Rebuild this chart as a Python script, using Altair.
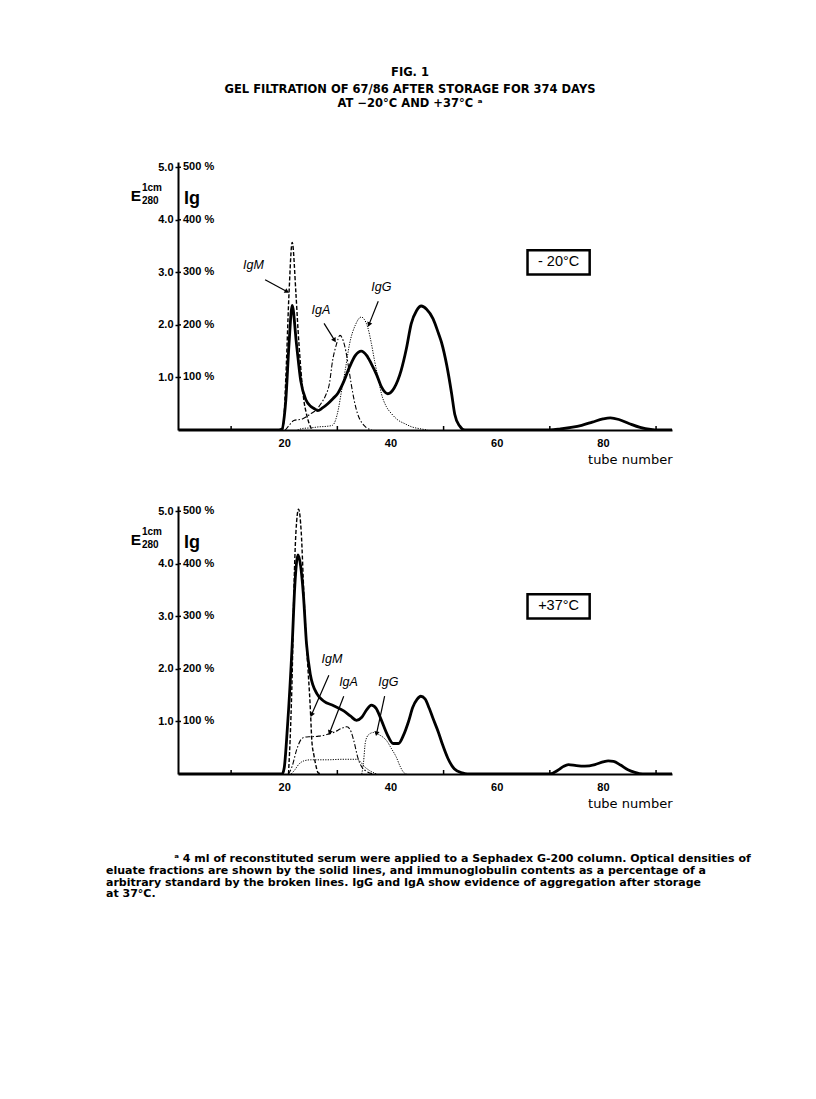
import math
import altair as alt
import pandas as pd

# ---------------- data ----------------
# Top panel: -20 °C
top_e280_tube = [0, 19, 19.6, 20, 20.3, 20.9, 21.5, 22.3, 23.1, 24.1, 25, 25.6, 26.3, 27.2, 28.2, 29.2, 30.1,
                 31.2, 32.3, 33.4, 34.5, 35.5, 36.4, 37.4, 38.3, 39.5, 40.7, 42, 43, 43.9, 44.9, 45.8, 46.8,
                 48, 49, 49.6, 50.6, 51.5, 52.1, 53, 54, 70, 72, 74, 76, 78, 80, 81.4, 83, 85, 87, 89, 90.5, 93]
top_e280 = [0, 0, 0.02, 0.25, 0.57, 1.64, 2.37, 1.64, 0.94, 0.57, 0.45, 0.41, 0.37, 0.42, 0.5, 0.6, 0.7,
            0.92, 1.2, 1.42, 1.5, 1.42, 1.26, 1.05, 0.82, 0.69, 0.8, 1.13, 1.55, 2.02, 2.27, 2.36, 2.3,
            2.12, 1.85, 1.67, 1.23, 0.7, 0.3, 0.08, 0, 0, 0.02, 0.05, 0.09, 0.15, 0.21, 0.23, 0.2, 0.12,
            0.05, 0.01, 0, 0]
top_igm_tube = [19.6, 19.8, 20.3, 20.9, 21.5, 22.2, 22.6, 23, 23.7, 24.2, 24.7, 25.3]
top_igm = [0, 0.05, 1.0, 2.6, 3.57, 2.6, 1.9, 1.32, 0.56, 0.3, 0.12, 0]
top_iga_tube = [20.2, 21, 21.8, 23.4, 25, 26, 26.9, 27.8, 28.5, 29.1, 29.8, 30.5, 31.1, 31.6, 32.1, 32.6,
                33.2, 33.8, 34.6, 35.4, 36.5]
top_iga = [0, 0.1, 0.18, 0.21, 0.31, 0.38, 0.5, 0.66, 0.88, 1.32, 1.62, 1.8, 1.7, 1.5, 1.2, 0.88,
           0.55, 0.31, 0.14, 0.05, 0]
top_igg_tube = [22.5, 23.5, 25, 26.5, 28, 29.1, 29.7, 30.2, 30.7, 31.5, 32.3, 33.4, 34.5, 35.1, 35.7, 36.4,
                37, 37.7, 38.3, 39.2, 40.2, 41.4, 42.7, 44, 45.8, 47]
top_igg = [0, 0.03, 0.04, 0.06, 0.07, 0.09, 0.2, 0.4, 0.69, 1.15, 1.64, 2.0, 2.15, 2.1, 1.96, 1.65,
           1.32, 0.98, 0.69, 0.45, 0.31, 0.19, 0.12, 0.06, 0.02, 0]

# Bottom panel: +37 °C
bot_e280_tube = [0, 19.6, 20, 20.6, 21.5, 22, 22.6, 23.1, 23.6, 24.2, 24.9, 26.2, 27.4, 29.3, 31.2, 32.5,
                 33.6, 34.6, 35.5, 36.4, 37.3, 38.3, 39.4, 40.5, 41.5, 42.5, 43.4, 44.2, 45, 45.7, 46.5,
                 47.3, 48, 49, 49.8, 50.8, 52, 53.5, 54.5, 70, 71.5, 72.5, 73.5, 75, 76.6, 78.5, 80, 81,
                 82, 83.3, 84.7, 86, 87.5, 93]
bot_e280 = [0, 0, 0.12, 0.89, 2.47, 3.6, 4.17, 3.95, 3.42, 2.47, 1.9, 1.52, 1.39, 1.3, 1.2, 1.1,
            1.02, 1.08, 1.22, 1.31, 1.25, 1.02, 0.75, 0.58, 0.58, 0.75, 1.0, 1.27, 1.42, 1.48, 1.43,
            1.25, 1.06, 0.8, 0.56, 0.3, 0.1, 0.02, 0, 0, 0.07, 0.14, 0.18, 0.16, 0.15, 0.18, 0.23, 0.25,
            0.24, 0.17, 0.08, 0.03, 0, 0]
bot_igm_tube = [20.8, 21.2, 21.5, 21.8, 22.2, 22.7, 23.2, 23.7, 24.3, 24.9, 25.2, 25.6, 25.9, 26.4, 27]
bot_igm = [0, 0.9, 1.9, 3.4, 4.6, 5.04, 4.6, 3.42, 2.28, 1.27, 0.63, 0.35, 0.19, 0.02, 0]
bot_iga_tube = [20.8, 21.5, 22.3, 23, 23.8, 25, 26.5, 28, 29.5, 30.8, 31.8, 32.6, 33.3, 33.8, 34.5, 35.5, 37]
bot_iga = [0, 0.15, 0.45, 0.63, 0.7, 0.71, 0.72, 0.75, 0.8, 0.87, 0.9, 0.8, 0.55, 0.33, 0.15, 0.05, 0]
bot_igg_tube = [34.6, 34.9, 35.3, 35.9, 36.8, 37.8, 38.6, 39.3, 40.2, 41.1, 41.8, 42.4, 43]
bot_igg = [0, 0.2, 0.62, 0.75, 0.79, 0.75, 0.7, 0.63, 0.48, 0.32, 0.15, 0.04, 0]
bot_low_tube = [21.3, 22, 22.7, 23.7, 25, 28, 31, 33.6, 34.3, 35, 36, 37.4]
bot_low = [0, 0.08, 0.18, 0.25, 0.27, 0.27, 0.28, 0.28, 0.24, 0.15, 0.07, 0]

# axis ticks / labels
y_ticks = [1.0, 2.0, 3.0, 4.0, 5.0]
y_pct_labels = ["100 %", "200 %", "300 %", "400 %", "500 %"]
x_label_values = [20, 40, 60, 80]
x_minor_ticks = [10, 30, 50, 70, 90]

# annotations (label, text pos, arrow start, arrow end) in data units
top_ann_label = ["IgM", "IgA", "IgG"]
top_ann_tx = [14.2, 26.9, 38.3]
top_ann_ty = [3.0, 2.15, 2.58]
top_arr_x1 = [16.4, 27.5, 37.7]
top_arr_y1 = [2.86, 2.03, 2.45]
top_arr_x2 = [20.4, 29.4, 36.0]
top_arr_y2 = [2.64, 1.72, 2.02]

bot_ann_label = ["IgM", "IgA", "IgG"]
bot_ann_tx = [29.0, 32.1, 39.6]
bot_ann_ty = [2.05, 1.62, 1.62]
bot_arr_x1 = [28.4, 31.2, 38.9]
bot_arr_y1 = [1.88, 1.48, 1.48]
bot_arr_x2 = [25.2, 28.6, 37.4]
bot_arr_y2 = [1.14, 0.8, 0.78]

box_x = [65.8, 77.5]
box_y = [2.96, 3.42]

title_lines = ["FIG. 1", "GEL FILTRATION OF 67/86 AFTER STORAGE FOR 374 DAYS", "AT \u221220\u00b0C AND +37\u00b0C \u1d43"]
foot_line1 = "\u1d43 4 ml of reconstituted serum were applied to a Sephadex G-200 column. Optical densities of"
foot_rest = ["eluate fractions are shown by the solid lines, and immunoglobulin contents as a percentage of a",
             "arbitrary standard by the broken lines. IgG and IgA show evidence of aggregation after storage",
             "at 37\u00b0C."]

# ---------------- chart ----------------
W, H = 494, 268
XMAX, YMAX = 93, 5.1
FONT = "Liberation Sans"
WIDE = "DejaVu Sans"

xaxis = alt.Axis(values=x_label_values, ticks=False, domainWidth=2, domainColor="black",
                 labelFontWeight="bold", labelFontSize=11, labelFont=FONT, labelPadding=7,
                 labelColor="black", grid=False, title="tube number", titleAnchor="end",
                 titleFont=WIDE, titleFontSize=13, titleFontWeight="normal", titlePadding=5,
                 titleColor="black")
yaxis = alt.Axis(values=y_ticks, format=".1f", tickSize=3, tickWidth=1.5, tickColor="black",
                 domainWidth=2, domainColor="black", labelFontWeight="bold", labelFontSize=11,
                 labelFont=FONT, labelPadding=2, labelColor="black", grid=False, title=None)


def X(field):
    return alt.X(field, type="quantitative", scale=alt.Scale(domain=[0, XMAX], nice=False, zero=False),
                 axis=xaxis)


def Y(field):
    return alt.Y(field, type="quantitative", scale=alt.Scale(domain=[0, YMAX], nice=False, zero=False),
                 axis=yaxis)


def curve(xs, ys, **mark):
    df = pd.DataFrame({"tube": xs, "v": ys})
    return alt.Chart(df).mark_line(interpolate="monotone", color="black", clip=True, **mark).encode(
        x=X("tube"), y=Y("v"))


def arrows(x1, y1, x2, y2):
    ang = []
    for a, b, c, d in zip(x1, y1, x2, y2):
        dx = (c - a) * W / XMAX
        dys = -(d - b) * H / YMAX
        ang.append(math.degrees(math.atan2(dx, -dys)) % 360)
    df = pd.DataFrame({"tube": x1, "v": y1, "tube2": x2, "v2": y2, "ang": ang})
    line = alt.Chart(df).mark_rule(color="black", strokeWidth=1.2).encode(
        x=X("tube"), y=Y("v"), x2="tube2", y2="v2")
    head = alt.Chart(df).mark_point(shape="triangle", filled=True, color="black", size=28, opacity=1).encode(
        x=X("tube2"), y=Y("v2"), angle=alt.Angle("ang:Q", scale=None))
    return [line, head]


def panel(curves, label, ann_label, tx, ty, ax1, ay1, ax2, ay2, extra):
    layers = []
    tick_df = pd.DataFrame({"v": y_ticks, "lab": y_pct_labels, "tube": [0] * 5})
    layers.append(alt.Chart(tick_df).mark_rule(color="black", strokeWidth=1.5).encode(
        x=alt.value(0), x2=alt.value(3), y=Y("v")))
    layers.append(alt.Chart(tick_df).mark_text(align="left", baseline="middle", font=FONT, fontSize=11,
                                               fontWeight="bold", color="black").encode(
        x=alt.value(5), y=Y("v"), text="lab:N"))
    minor_df = pd.DataFrame({"tube": x_minor_ticks})
    layers.append(alt.Chart(minor_df).mark_rule(color="black", strokeWidth=1.5).encode(
        x=X("tube"), y=alt.value(H), y2=alt.value(H - 4)))
    layers += curves
    adf = pd.DataFrame({"tube": tx, "v": ty, "lab": ann_label})
    layers.append(alt.Chart(adf).mark_text(font=FONT, fontSize=12.5, fontStyle="italic", color="black",
                                           align="center", baseline="bottom").encode(
        x=X("tube"), y=Y("v"), text="lab:N"))
    layers += arrows(ax1, ay1, ax2, ay2)
    bdf = pd.DataFrame({"tube": [box_x[0]], "tube2": [box_x[1]], "v": [box_y[0]], "v2": [box_y[1]],
                        "tc": [(box_x[0] + box_x[1]) / 2], "vc": [(box_y[0] + box_y[1]) / 2],
                        "lab": [label]})
    layers.append(alt.Chart(bdf).mark_rect(fill="white", stroke="black", strokeWidth=2.5).encode(
        x=X("tube"), x2="tube2", y=Y("v"), y2="v2"))
    layers.append(alt.Chart(bdf).mark_text(font=FONT, fontSize=14.5, color="black", align="center",
                                           baseline="middle").encode(
        x=X("tc"), y=Y("vc"), text="lab:N"))
    layers.append(alt.Chart(tick_df.head(1)).mark_text(text="E", font=FONT, fontSize=15.5, fontWeight="bold",
                                                       align="right", baseline="alphabetic",
                                                       color="black").encode(
        x=alt.value(-37), y=alt.value(39)))
    layers.append(alt.Chart(tick_df.head(1)).mark_text(text="1cm", font=FONT, fontSize=10, fontWeight="bold",
                                                       align="left", baseline="alphabetic",
                                                       color="black").encode(
        x=alt.value(-36), y=alt.value(29)))
    layers.append(alt.Chart(tick_df.head(1)).mark_text(text="280", font=FONT, fontSize=10, fontWeight="bold",
                                                       align="left", baseline="alphabetic",
                                                       color="black").encode(
        x=alt.value(-36), y=alt.value(42)))
    layers.append(alt.Chart(tick_df.head(1)).mark_text(text="Ig", font=FONT, fontSize=18, fontWeight="bold",
                                                       align="left", baseline="alphabetic",
                                                       color="black").encode(
        x=alt.value(6), y=alt.value(42)))
    layers += extra
    return alt.layer(*layers).properties(width=W, height=H)


one = pd.DataFrame({"a": [0]})

title_layers = []
for txt, yy in zip(title_lines, [-86, -69, -55]):
    title_layers.append(alt.Chart(one).mark_text(text=txt, font=WIDE, fontSize=11.5, fontWeight="bold",
                                                 align="center", baseline="alphabetic",
                                                 color="black").encode(
        x=alt.value(232), y=alt.value(yy)))

foot_layers = [
    alt.Chart(one).mark_text(text=foot_line1, font=WIDE, fontSize=11, fontWeight="bold", align="left",
                             baseline="alphabetic", color="black").encode(x=alt.value(-4), y=alt.value(356)),
    alt.Chart(one).mark_text(text=foot_rest, font=WIDE, fontSize=11, fontWeight="bold", align="left",
                             baseline="alphabetic", lineHeight=11.7, color="black").encode(
        x=alt.value(-72), y=alt.value(368)),
]

dash_igm = [4, 2]
dash_iga = [5, 2, 1.5, 2]
dash_igg = [1.2, 1.3]

top = panel(
    [curve(top_igg_tube, top_igg, strokeWidth=1, strokeDash=dash_igg),
     curve(top_iga_tube, top_iga, strokeWidth=1.1, strokeDash=dash_iga),
     curve(top_igm_tube, top_igm, strokeWidth=1.4, strokeDash=dash_igm),
     curve(top_e280_tube, top_e280, strokeWidth=2.8)],
    "- 20\u00b0C", top_ann_label, top_ann_tx, top_ann_ty, top_arr_x1, top_arr_y1, top_arr_x2, top_arr_y2,
    title_layers)

bottom = panel(
    [curve(bot_low_tube, bot_low, strokeWidth=1, strokeDash=dash_igg),
     curve(bot_igg_tube, bot_igg, strokeWidth=1, strokeDash=dash_igg),
     curve(bot_iga_tube, bot_iga, strokeWidth=1.1, strokeDash=dash_iga),
     curve(bot_igm_tube, bot_igm, strokeWidth=1.4, strokeDash=dash_igm),
     curve(bot_e280_tube, bot_e280, strokeWidth=2.8)],
    "+37\u00b0C", bot_ann_label, bot_ann_tx, bot_ann_ty, bot_arr_x1, bot_arr_y1, bot_arr_x2, bot_arr_y2,
    foot_layers)

chart = alt.vconcat(top, bottom, spacing=39).properties(
    padding={"left": 98, "top": 59, "right": 10, "bottom": 10}
).configure(background="white").configure_view(stroke=None)

chart.save("out.html", embed_options={"renderer": "svg", "actions": False})
